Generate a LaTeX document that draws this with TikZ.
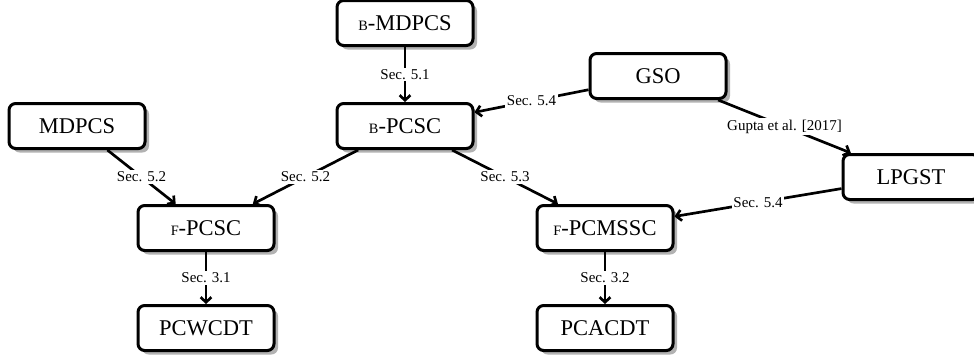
\documentclass[tikz,border=0pt]{standalone}
\usepackage{fontspec}
\setmainfont{Liberation Serif}
\usetikzlibrary{shadows,arrows.meta}
\tikzset{
	blok/.style={draw, line width=1.8pt, rounded corners=4pt, fill=white,
		minimum width=81.6pt, minimum height=27pt, inner sep=0pt,
		font=\fontsize{13.5}{15}\selectfont,
		drop shadow={shadow xshift=2.4pt, shadow yshift=-2.4pt, fill=black!30, opacity=1}},
	pijl/.style={-{Straight Barb[length=3pt,width=6.5pt]}, line width=1.6pt},
	sec/.style={fill=white, inner sep=1pt, font=\fontsize{9}{10}\selectfont}
}
\newcommand{\kl}[1]{{\fontsize{8.6}{9}\selectfont #1}}
\begin{document}
\begin{tikzpicture}[x=0.6pt, y=-0.6pt]

					\useasboundingbox (0,0) rectangle (974,360);

					\node[blok] (bmdpcs) at (405,23) {\kl{B}-MDPCS};
					\node[blok] (mdpcs) at (77,126) {MDPCS};
					\node[blok] (bpcsc) at (405,126) {\kl{B}-PCSC};
					\node[blok] (gso) at (658,76) {GSO};
					\node[blok] (lpgst) at (911,177) {LPGST};
					\node[blok] (fpcsc) at (206,228) {\kl{F}-PCSC};
					\node[blok] (fpcmssc) at (605,228) {\kl{F}-PCMSSC};
					\node[blok] (pcwcdt) at (206,328) {PCWCDT};
					\node[blok] (pcacdt) at (605,328) {PCACDT};

					\draw[pijl] (bmdpcs) -- node[sec]{Sec. 5.1} (bpcsc);
					\draw[pijl] (mdpcs) -- node[sec]{Sec. 5.2} (fpcsc);
					\draw[pijl] (bpcsc) -- node[sec]{Sec. 5.2} (fpcsc);
					\draw[pijl] (bpcsc) -- node[sec]{Sec. 5.3} (fpcmssc);
					\draw[pijl] (gso) -- node[sec]{Sec. 5.4} (bpcsc);
					\draw[pijl] (gso) -- node[sec]{Gupta et al. [2017]} (lpgst);
					\draw[pijl] (lpgst) -- node[sec]{Sec. 5.4} (fpcmssc);
					\draw[pijl] (fpcsc) -- node[sec]{Sec. 3.1} (pcwcdt);
					\draw[pijl] (fpcmssc) -- node[sec]{Sec. 3.2} (pcacdt);

\end{tikzpicture}
\end{document}
